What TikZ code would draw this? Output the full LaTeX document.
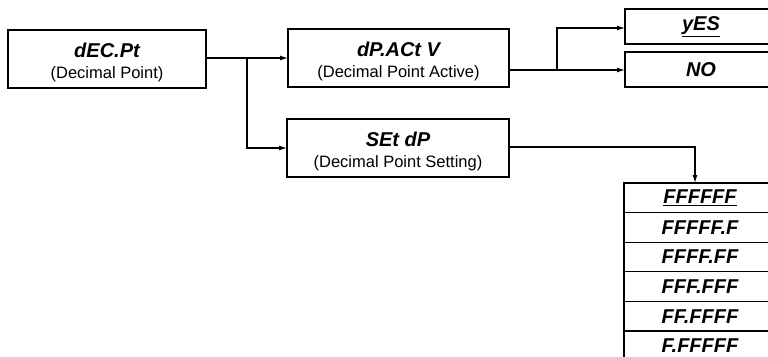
\documentclass[tikz,border=0pt]{standalone}
\usepackage{fontspec}
\setmainfont{Liberation Sans}
\usetikzlibrary{arrows.meta}
\newcommand{\ttl}[1]{{\fontsize{20}{21}\selectfont\bfseries\itshape #1}}
\newcommand{\sbt}[1]{{\fontsize{16.5}{21}\selectfont #1}}
\newcommand{\twoline}[2]{\raisebox{-4.5pt}[\height][\depth]{\begin{tabular}{@{}c@{}}\ttl{#1}\\\sbt{#2}\end{tabular}}}
\tikzset{
  box/.style={draw, line width=1.2pt, rectangle, inner sep=0pt, outer sep=0pt, align=center,
    font=\fontsize{16.5}{21}\selectfont},
  bigbox/.style={box, minimum height=58pt},
  optbox/.style={box, minimum width=152pt, minimum height=35pt},
  fbox/.style={box, minimum width=152pt, minimum height=29.6pt},
  conn/.style={line width=1.2pt, -{Latex[length=8pt,width=5pt]}},
  plain/.style={line width=1.2pt}
}
\begin{document}
\begin{tikzpicture}[x=1pt,y=-1pt]
\useasboundingbox (0,0) rectangle (768,356);
\clip (0,0) rectangle (768,356);
\fill[white] (0,0) rectangle (768,356);
\node[bigbox, minimum width=198pt] (dec) at (107,59) {\twoline{dEC.Pt}{(Decimal Point)}};
\node[bigbox, minimum width=221pt] (dpa) at (398.5,58) {\twoline{dP.ACt V}{(Decimal Point Active)}};
\node[bigbox, minimum width=222pt] (setdp) at (398,148) {\twoline{SEt dP}{(Decimal Point Setting)}};
\node[optbox] (yes) at (701,26.5) {\ttl{\underline{yES}}};
\node[optbox] (no) at (701,69.5) {\ttl{NO}};
\node[fbox] (f1) at (700,197.8) {\ttl{\underline{FFFFFF}}};
\node[fbox] (f2) at (700,227.4) {\ttl{FFFFF.F}};
\node[fbox] (f3) at (700,257.0) {\ttl{FFFF.FF}};
\node[fbox] (f4) at (700,286.6) {\ttl{FFF.FFF}};
\node[fbox] (f5) at (700,316.2) {\ttl{FF.FFFF}};
\node[fbox] (f6) at (700,345.8) {\ttl{F.FFFFF}};
\coordinate (b1) at (247,58);
\draw[conn] (dec.east |- b1) -- (dpa.west |- b1);
\draw[conn] (b1) |- (setdp.west);
\coordinate (b2) at (557,70);
\draw[plain] (dpa.east |- b2) -- (b2);
\draw[conn] (b2) -- (no.west |- b2);
\draw[conn] (b2) |- ([yshift=-1.5pt]yes.west);
\coordinate (b3) at (695,147);
\draw[conn] (setdp.east |- b3) -- (b3) -- (b3 |- f1.north);
\end{tikzpicture}
\end{document}
